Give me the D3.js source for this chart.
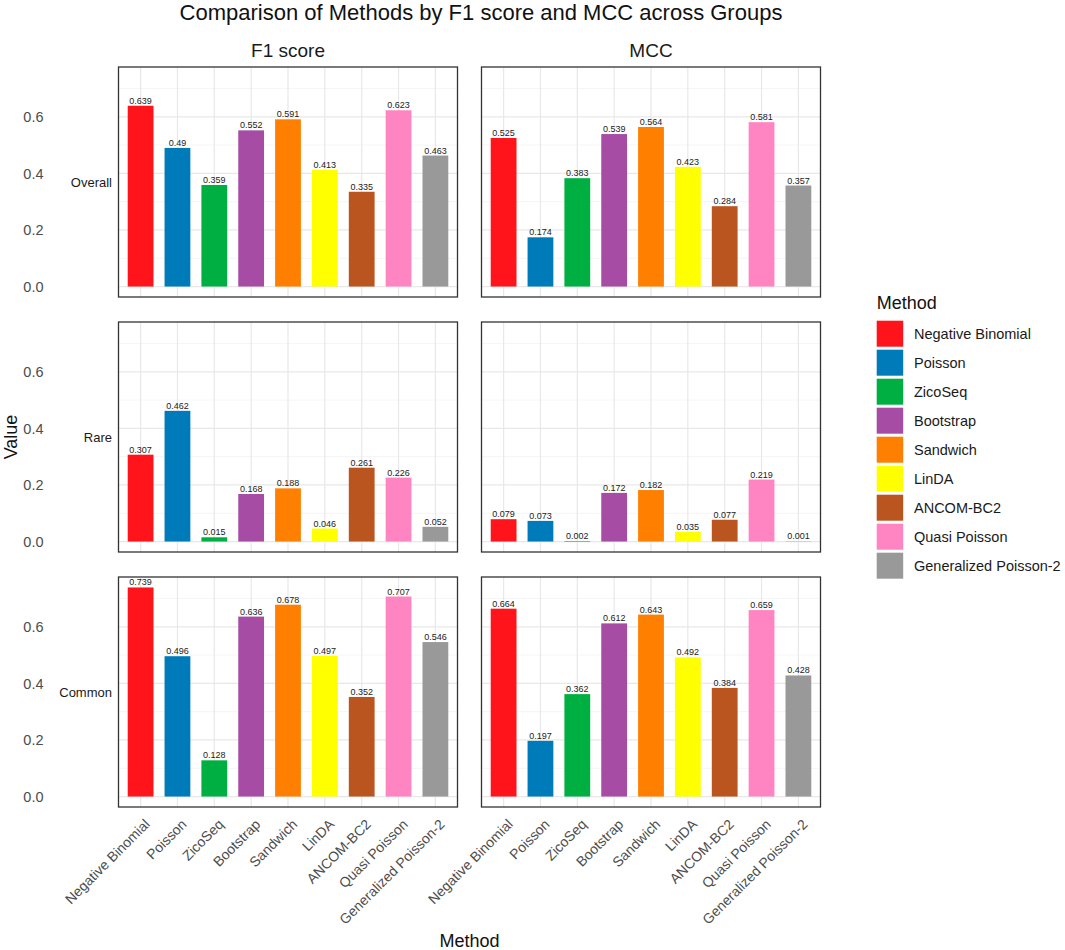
<!DOCTYPE html>
<html>
<head>
<meta charset="utf-8">
<script src="https://cdn.jsdelivr.net/npm/d3@7"></script>
<style>
body{margin:0;background:#fff;}
svg{font-family:"Liberation Sans",Arial,sans-serif;}
</style>
</head>
<body>
<svg></svg>
<script>
//data
var methods = ["Negative Binomial","Poisson","ZicoSeq","Bootstrap","Sandwich",
               "LinDA","ANCOM-BC2","Quasi Poisson","Generalized Poisson-2"]
var methodColors = ["#FF141C","#007BBA","#00AF41","#A74CA4","#FF7F00",
                    "#FFFF00","#BB5520","#FF85C2","#999999"]
var metrics = ["F1 score","MCC"]
var groups = ["Overall","Rare","Common"]

var f1Overall = [0.639,0.49,0.359,0.552,0.591,0.413,0.335,0.623,0.463]
var f1Rare    = [0.307,0.462,0.015,0.168,0.188,0.046,0.261,0.226,0.052]
var f1Common  = [0.739,0.496,0.128,0.636,0.678,0.497,0.352,0.707,0.546]
var mccOverall = [0.525,0.174,0.383,0.539,0.564,0.423,0.284,0.581,0.357]
var mccRare    = [0.079,0.073,0.002,0.172,0.182,0.035,0.077,0.219,0.001]
var mccCommon  = [0.664,0.197,0.362,0.612,0.643,0.492,0.384,0.659,0.428]

var yTicks = [0,0.2,0.4,0.6]
var yMinor = [0.1,0.3,0.5,0.7]

var panelData = {
    "F1 score":{Overall:f1Overall,Rare:f1Rare,Common:f1Common},
    "MCC":{Overall:mccOverall,Rare:mccRare,Common:mccCommon}
}

var fmt = function(v){ return String(v); }

//one facet panel
var drawPanel = function(svg,metric,group,col,row,layout,xScale,yScale)
{
    var px = layout.left + col*(layout.pw+layout.gapX)
    var py = layout.top + row*(layout.ph+layout.gapY)
    var g = svg.append("g")
        .attr("transform","translate("+px+","+py+")")

    //minor grid
    g.selectAll("line.minor")
        .data(yMinor)
        .enter()
        .append("line")
        .attr("x1",0).attr("x2",layout.pw)
        .attr("y1",function(d){return yScale(d)})
        .attr("y2",function(d){return yScale(d)})
        .attr("stroke","#f0f0f0")
        .attr("stroke-width",0.7)
    //major grid
    g.selectAll("line.major")
        .data(yTicks)
        .enter()
        .append("line")
        .attr("x1",0).attr("x2",layout.pw)
        .attr("y1",function(d){return yScale(d)})
        .attr("y2",function(d){return yScale(d)})
        .attr("stroke","#e8e8e8")
        .attr("stroke-width",1.2)
    g.selectAll("line.vgrid")
        .data(methods)
        .enter()
        .append("line")
        .attr("x1",function(m){return xScale(m)+xScale.bandwidth()/2})
        .attr("x2",function(m){return xScale(m)+xScale.bandwidth()/2})
        .attr("y1",0).attr("y2",layout.ph)
        .attr("stroke","#e8e8e8")
        .attr("stroke-width",1.2)

    var vals = panelData[metric][group]
    var rows = methods.map(function(m,i){ return {method:m,value:vals[i],color:methodColors[i]} })

    g.selectAll("rect.bar")
        .data(rows)
        .enter()
        .append("rect")
        .attr("x",function(d){return xScale(d.method)})
        .attr("y",function(d){return yScale(d.value)})
        .attr("width",xScale.bandwidth())
        .attr("height",function(d){return yScale(0)-yScale(d.value)})
        .attr("fill",function(d){return d.color})

    g.selectAll("text.val")
        .data(rows)
        .enter()
        .append("text")
        .text(function(d){return fmt(d.value)})
        .attr("x",function(d){return xScale(d.method)+xScale.bandwidth()/2})
        .attr("y",function(d){return yScale(d.value)-2})
        .attr("text-anchor","middle")
        .attr("font-size","9px")
        .attr("fill","#222")

    g.append("rect")
        .attr("width",layout.pw)
        .attr("height",layout.ph)
        .attr("fill","none")
        .attr("stroke","#333")
        .attr("stroke-width",1.3)

    //y axis only on the left column
    if(col==0)
    {
        var yAxis = d3.axisLeft(yScale)
            .tickValues(yTicks)
            .tickSize(0)
            .tickFormat(d3.format(".1f"))
        var ya = svg.append("g")
            .attr("transform","translate("+(43.5)+","+py+")")
            .call(yAxis)
        ya.select(".domain").remove()
        ya.selectAll("text")
            .attr("x",0)
            .attr("font-size","14.5px")
            .attr("font-family","Liberation Sans, Arial, sans-serif")
            .attr("fill","#4d4d4d")

        svg.append("text")
            .text(group)
            .attr("x",112)
            .attr("y",py+layout.ph/2)
            .attr("dy","0.35em")
            .attr("text-anchor","end")
            .attr("font-size","13px")
            .attr("fill","#1a1a1a")
    }
    //x axis only on the bottom row
    if(row==groups.length-1)
    {
        var xAxis = d3.axisBottom(xScale).tickSize(0)
        var xa = svg.append("g")
            .attr("transform","translate("+px+","+(py+layout.ph)+")")
            .call(xAxis)
        xa.select(".domain").remove()
        xa.selectAll("text")
            .attr("font-size","14px")
            .attr("font-family","Liberation Sans, Arial, sans-serif")
            .attr("fill","#4d4d4d")
            .attr("text-anchor","end")
            .attr("x",0).attr("y",0)
            .attr("dy","0.72em")
            .attr("transform","translate(3,11) rotate(-45)")
    }
    //column strip on the top row
    if(row==0)
    {
        svg.append("text")
            .text(metric)
            .attr("x",px+layout.pw/2)
            .attr("y",57)
            .attr("text-anchor","middle")
            .attr("font-size","19px")
            .attr("fill","#1a1a1a")
    }
}

var drawLegend = function(svg)
{
    var legend = svg.append("g")
        .attr("transform","translate(876.7,0)")
    legend.append("text")
        .text("Method")
        .attr("x",0)
        .attr("y",308.5)
        .attr("font-size","18px")
        .attr("fill","#111")
    var entries = legend.selectAll("g.entry")
        .data(methods)
        .enter()
        .append("g")
        .attr("transform",function(m,i){return "translate(0,"+(320.7+i*29)+")"})
    entries.append("rect")
        .attr("width",26.5)
        .attr("height",26)
        .attr("fill",function(m,i){return methodColors[i]})
    entries.append("text")
        .text(function(m){return m})
        .attr("x",37.3)
        .attr("y",13)
        .attr("dy","0.35em")
        .attr("font-size","14.5px")
        .attr("fill","#1a1a1a")
}

var initGraph = function()
{
    var screen = {width:1065,height:950}
    var layout = {left:118.5,top:67,pw:339,ph:230,gapX:24,gapY:25}

    var svg = d3.select("svg")
        .attr("width",screen.width)
        .attr("height",screen.height)

    var xScale = d3.scaleBand()
        .domain(methods)
        .range([0,layout.pw])
        .paddingInner(0.3)
        .paddingOuter(0.25)

    var allVals = f1Overall.concat(f1Rare,f1Common,mccOverall,mccRare,mccCommon)
    var ymax = d3.max(allVals)
    var yScale = d3.scaleLinear()
        .domain([-0.05*ymax,1.05*ymax])
        .range([layout.ph,0])

    metrics.forEach(function(metric,col){
        groups.forEach(function(group,row){
            drawPanel(svg,metric,group,col,row,layout,xScale,yScale)
        })
    })

    var midX = layout.left+(2*layout.pw+layout.gapX)/2

    svg.append("text")
        .text("Comparison of Methods by F1 score and MCC across Groups")
        .attr("x",481)
        .attr("y",20)
        .attr("text-anchor","middle")
        .attr("font-size","22px")
        .attr("fill","#111")

    svg.append("text")
        .text("Method")
        .attr("x",midX)
        .attr("y",947)
        .attr("text-anchor","middle")
        .attr("font-size","18px")
        .attr("fill","#111")

    svg.append("g")
        .attr("transform","translate(17,"+(layout.top+(3*layout.ph+2*layout.gapY)/2)+")")
        .append("text")
        .text("Value")
        .attr("text-anchor","middle")
        .attr("transform","rotate(270)")
        .attr("font-size","18px")
        .attr("fill","#111")

    drawLegend(svg)
}

initGraph()
</script>
</body>
</html>
